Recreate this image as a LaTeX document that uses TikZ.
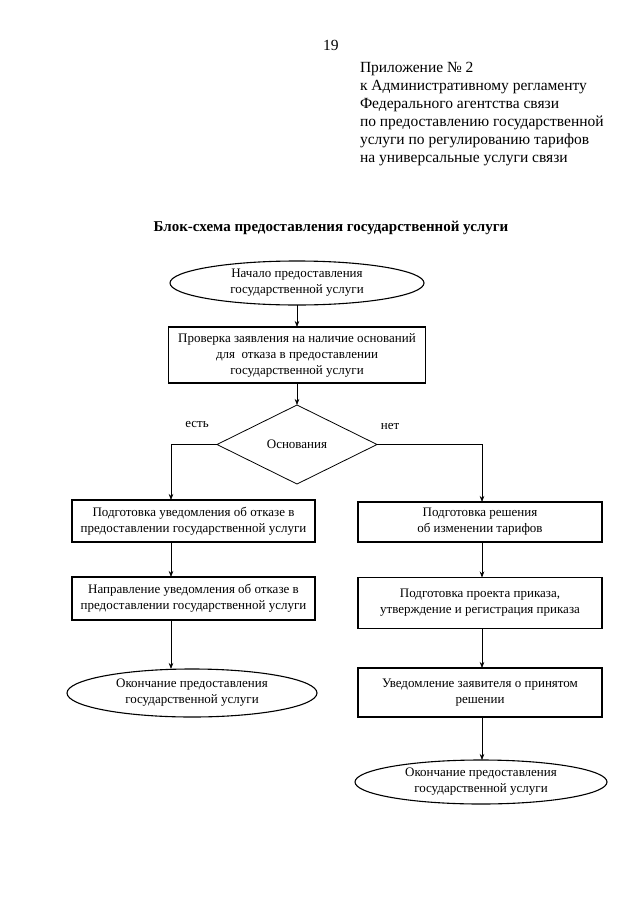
\documentclass[tikz,border=0pt]{standalone}
\usepackage{fontspec}
\setmainfont{Liberation Serif}
\usetikzlibrary{shapes.geometric,arrows.meta}
\begin{document}
\begin{tikzpicture}[x=1pt,y=-1pt,
  every node/.style={inner sep=0pt, outer sep=0pt},
  txt/.style={font=\fontsize{13}{16}\selectfont, align=center},
  procbox/.style={draw, line width=1.1pt, rectangle, txt},
  term/.style={draw, line width=1.1pt, ellipse, txt},
  decis/.style={draw, line width=0.8pt, diamond, txt},
  arr/.style={line width=0.6pt, -{Stealth[length=6pt,width=4.5pt]}},
  ln/.style={line width=0.6pt}]
\useasboundingbox (0,0) rectangle (640,905);
\fill[white] (0,0) rectangle (640,905);

\node[anchor=base west, font=\fontsize{15.5}{18}\selectfont] (pg) at (323,50) {19};
\node[anchor=north west, align=left, font=\fontsize{15.5}{18}\selectfont] (hdr) at (360,62)
 {Приложение № 2\\к Административному регламенту\\Федерального агентства связи\\по предоставлению государственной\\услуги по регулированию тарифов\\на универсальные услуги связи};

\node[anchor=base, font=\bfseries\fontsize{15}{18}\selectfont] (title) at (331,231)
 {Блок-схема предоставления государственной услуги};

\node[term, minimum width=254pt, minimum height=44pt] (start) at (297,283)
 {Начало предоставления\\государственной услуги};
\node[procbox, minimum width=257pt, minimum height=56pt] (check) at (297,355)
 {Проверка заявления на наличие оснований\\для\ \ отказа в предоставлении\\государственной услуги};
\node[decis, minimum width=160pt, minimum height=79pt] (dec) at (297,444.5) {Основания};

\node[txt] (yes) at (197,424) {есть};
\node[txt] (no) at (390,426) {нет};

\coordinate (lx) at (171,0);
\coordinate (rx) at (482,0);

\node[procbox, minimum width=243pt, minimum height=42pt] (l1) at (193.5,521)
 {Подготовка уведомления об отказе в\\предоставлении государственной услуги};
\node[procbox, minimum width=243pt, minimum height=43pt] (l2) at (193.5,598.5)
 {Направление уведомления об отказе в\\предоставлении государственной услуги};
\node[term, minimum width=250pt, minimum height=48pt] (lend) at (192,693)
 {Окончание предоставления\\государственной услуги};

\node[procbox, minimum width=244pt, minimum height=40pt] (r1) at (480,522)
 {Подготовка решения\\об изменении тарифов};
\node[procbox, minimum width=244pt, minimum height=51pt] (r2) at (480,603)
 {Подготовка проекта приказа,\\утверждение и регистрация приказа};
\node[procbox, minimum width=244pt, minimum height=49pt] (r3) at (480,692.5)
 {Уведомление заявителя о принятом\\решении};
\node[term, minimum width=252pt, minimum height=44pt] (rend) at (481,782)
 {Окончание предоставления\\государственной услуги};

\draw[arr] (start) -- (check);
\draw[arr] (check) -- (dec);
\draw[arr] (dec.west) -- (dec.west -| lx) -- (l1.north -| lx);
\draw[arr] (dec.east) -- (dec.east -| rx) -- (r1.north -| rx);
\draw[arr] (l1.south -| lx) -- (l2.north -| lx);
\draw[arr] (l2.south -| lx) -- (lend.north -| lx);
\draw[arr] (r1.south -| rx) -- (r2.north -| rx);
\draw[arr] (r2.south -| rx) -- (r3.north -| rx);
\draw[arr] (r3.south -| rx) -- (rend.north -| rx);
\end{tikzpicture}
\end{document}
